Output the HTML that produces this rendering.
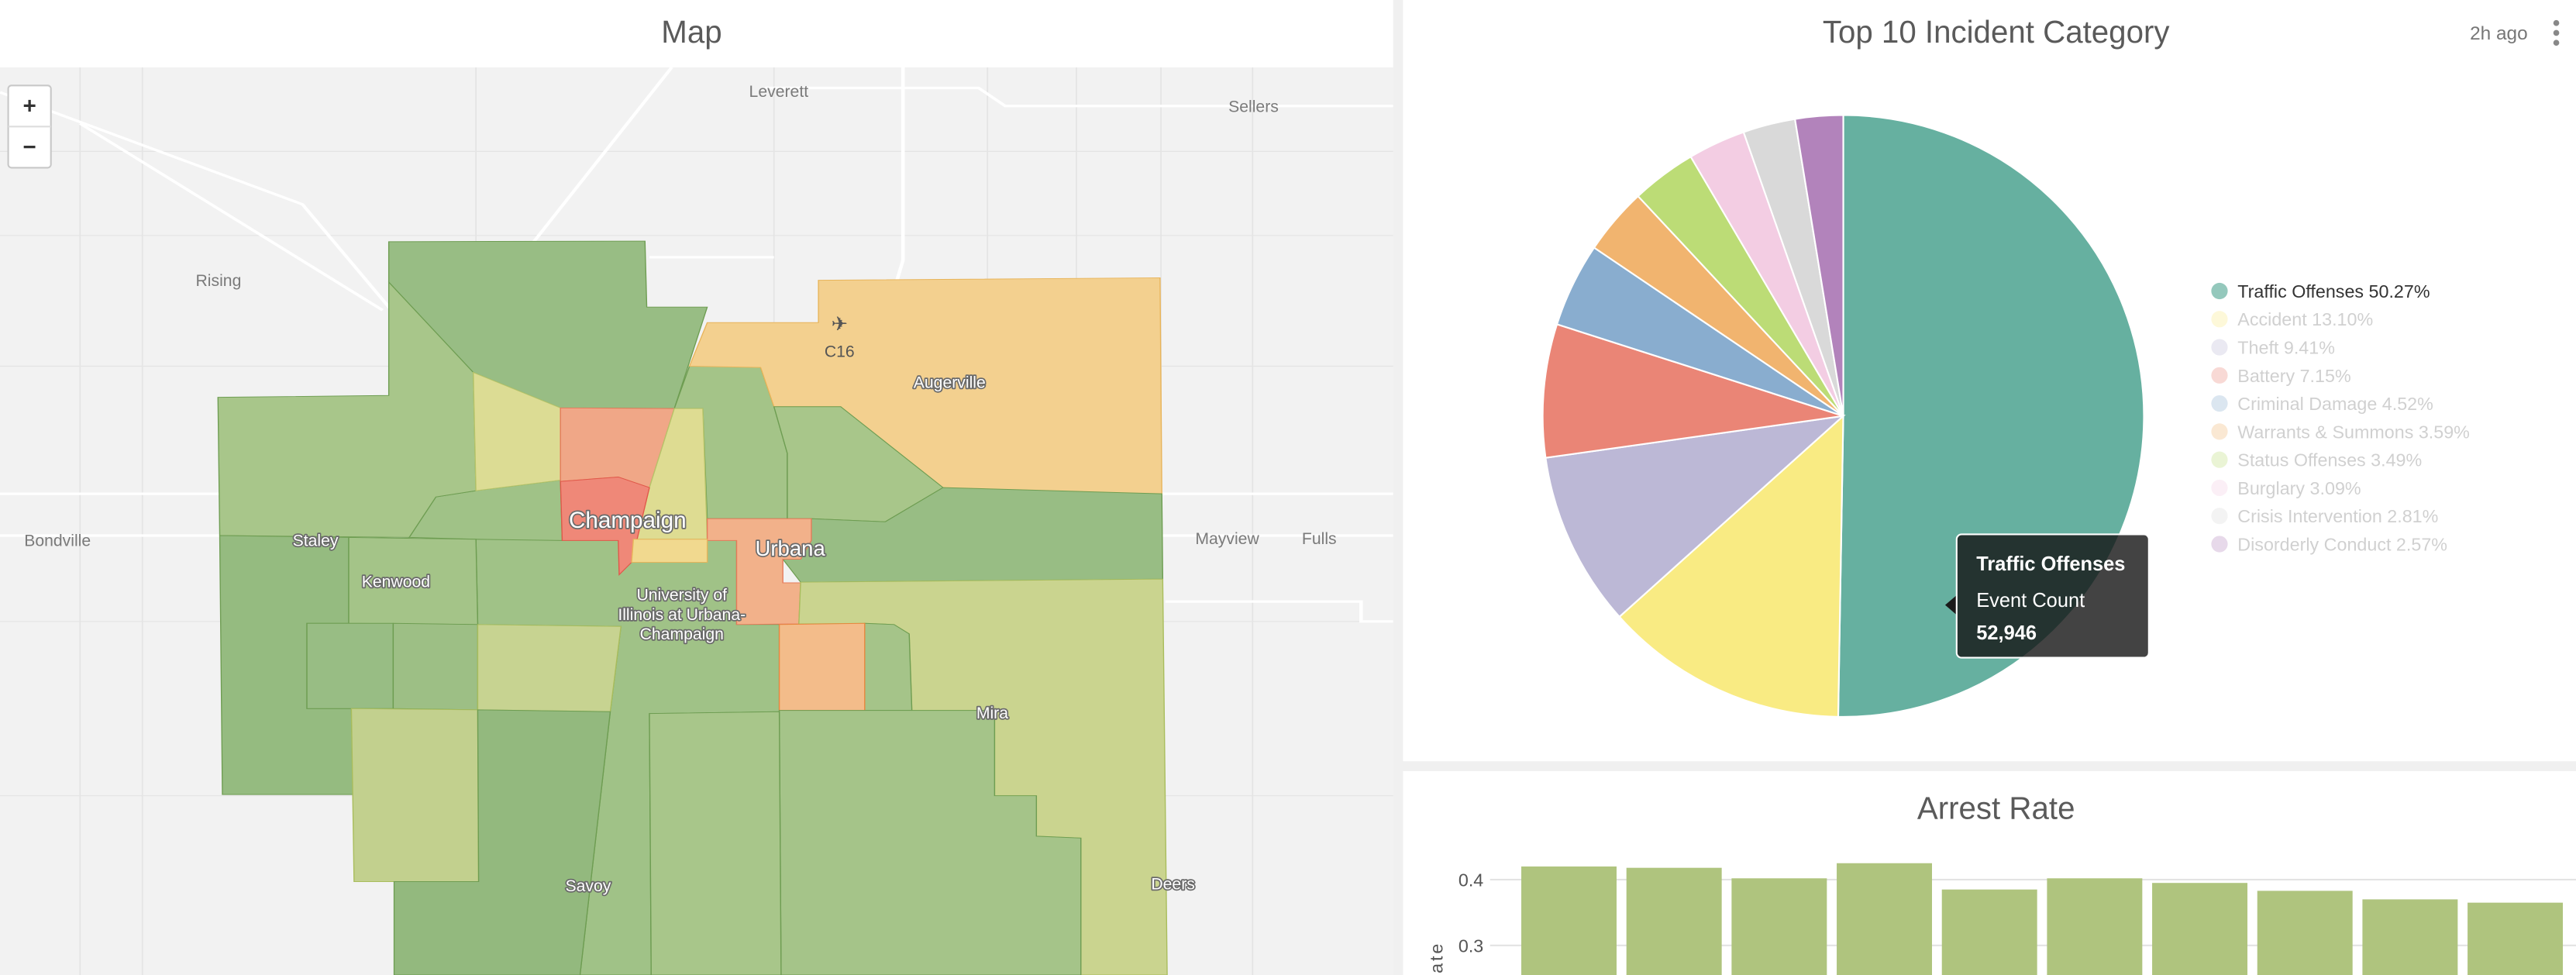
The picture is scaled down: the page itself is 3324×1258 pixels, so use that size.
<!DOCTYPE html>
<html><head><meta charset="utf-8"><style>html,body{margin:0;padding:0;background:#f0f0f0;overflow:hidden;width:3324px;height:1258px}svg{display:block;font-family:"Liberation Sans",sans-serif}</style></head>
<body>
<svg id="root" width="3324" height="1258" viewBox="0 0 1568 593" preserveAspectRatio="none" xmlns="http://www.w3.org/2000/svg">
<defs><clipPath id="barclip"><rect x="854" y="469" width="714" height="124"/></clipPath></defs>
<rect x="0" y="0" width="1568" height="593" fill="#f0f0f0"/>
<!-- MAP PANEL -->
<g>
<rect x="0" y="0" width="848" height="41" fill="#ffffff"/>
<text x="421" y="26" font-size="19" fill="#5a5a5a" text-anchor="middle">Map</text>
<svg x="0" y="41" width="848" height="552" viewBox="0 110 1566 1458" preserveAspectRatio="none">
<rect x="0" y="110" width="1568" height="1460" fill="#f2f2f2"/>
<g stroke="#e4e4e4" stroke-width="1.5" vector-effect="non-scaling-stroke" fill="none">
<path d="M0 245H1568M0 380H1568M0 590H1568M0 1000H1568M0 1280H1568M90 110V1568M160 110V1568M535 110V1568M870 110V1568M1110 110V1568M1210 110V1568M1305 110V1568M1408 110V1568"/>
</g>
<g stroke="#ffffff" stroke-width="4" fill="none">
<path d="M0 150L340 330L440 500"/><path d="M90 200L430 500"/><path d="M755 110L600 390"/><path d="M0 795H1568"/><path d="M0 862H1568"/><path d="M860 143H1100L1130 172H1568"/><path d="M1015 110V420L975 610"/><path d="M730 415L870 415"/><path d="M1310 968H1530V1000H1568"/>
</g>
<g stroke-width="1.2" vector-effect="non-scaling-stroke">
<polygon points="535,868 828,868 828,1005 876,1005 876,1145 730,1148 732,1568 652,1568 686,1145 698,1008 537,1005" fill="#a0c287" stroke="#6e9d52"/>
<polygon points="460,865 490,800 535,790 630,773 632,870 535,868" fill="#a0c287" stroke="#6e9d52"/>
<polygon points="437,390 725,389 727,495 795,495 758,658 630,657 532,600 437,455" fill="#98bd84" stroke="#6e9d52"/>
<polygon points="245,640 437,637 437,455 532,600 535,790 490,800 460,865 247,862" fill="#a8c68a" stroke="#6e9d52"/>
<polygon points="532,600 630,657 630,773 535,790" fill="#dcdc94" stroke="#b7c46a"/>
<polygon points="775,590 820,590 855,592 870,655 885,730 885,835 795,835 790,658 758,658" fill="#a4c488" stroke="#6e9d52"/>
<polygon points="920,452 1304,448 1306,795 1060,797 945,655 870,655 855,592 775,590 795,520 920,520" fill="#f3d08f" stroke="#e8b45a"/>
<polygon points="870,655 945,655 1060,785 995,840 912,835 885,835 885,730" fill="#a8c68a" stroke="#6e9d52"/>
<polygon points="1060,785 1306,795 1307,932 900,937 880,900 900,870 912,835 995,840" fill="#98bd84" stroke="#6e9d52"/>
<polygon points="630,657 758,658 730,785 695,768 630,775" fill="#f0a787" stroke="#e57a5a"/>
<polygon points="758,658 790,658 795,868 712,868 730,785" fill="#dedc92" stroke="#b7c46a"/>
<polygon points="630,775 695,768 730,785 710,905 696,925 695,870 632,870" fill="#ef8878" stroke="#e0584a"/>
<polygon points="795,835 912,835 912,870 900,900 880,900 880,938 900,938 898,1004 828,1005 828,870 795,870" fill="#f2b18a" stroke="#e57a5a"/>
<polygon points="712,868 795,868 795,905 710,905" fill="#f1d98f" stroke="#e8b45a"/>
<polygon points="900,937 1307,932 1312,1568 1215,1568 1215,1348 1165,1345 1165,1280 1118,1280 1118,1143 1025,1143 1022,1020 1005,1005 972,1003 898,1004" fill="#cad48f" stroke="#a9bd5c"/>
<polygon points="972,1003 1005,1005 1022,1020 1025,1143 972,1143" fill="#a5c489" stroke="#6e9d52"/>
<polygon points="876,1005 972,1003 972,1143 876,1143" fill="#f3bc8a" stroke="#e8873f"/>
<polygon points="876,1143 1118,1143 1118,1280 1165,1280 1165,1345 1215,1348 1215,1568 878,1568" fill="#a5c489" stroke="#6e9d52"/>
<polygon points="730,1148 876,1145 878,1568 732,1568" fill="#a8c68a" stroke="#6e9d52"/>
<polygon points="247,862 392,865 392,1003 345,1003 345,1140 395,1140 397,1278 250,1278" fill="#95bb80" stroke="#6e9d52"/>
<polygon points="392,865 535,868 537,1005 392,1003" fill="#a4c488" stroke="#6e9d52"/>
<polygon points="345,1003 442,1003 442,1140 345,1140" fill="#98bd84" stroke="#6e9d52"/>
<polygon points="442,1003 537,1005 537,1142 442,1140" fill="#9dbf85" stroke="#6e9d52"/>
<polygon points="537,1005 698,1008 686,1145 537,1142" fill="#c7d391" stroke="#a9bd5c"/>
<polygon points="395,1140 537,1142 538,1418 398,1418" fill="#c2d08e" stroke="#a9bd5c"/>
<polygon points="537,1142 686,1145 652,1568 443,1568 443,1418 538,1418" fill="#93b97e" stroke="#6e9d52"/>
</g>
</svg>
<g font-size="10" fill="#7a7a7a" text-anchor="middle">
<text x="474" y="59">Leverett</text><text x="763" y="68">Sellers</text><text x="133" y="174">Rising</text>
<text x="35" y="332">Bondville</text><text x="747" y="331">Mayview</text><text x="803" y="331">Fulls</text>
<text x="511" y="217" fill="#555">C16</text><text x="511" y="201" fill="#555" font-size="12">✈</text>
</g>
<g font-size="10" fill="#ffffff" stroke="#6a6a6a" stroke-width="1.6" paint-order="stroke" stroke-linejoin="round" text-anchor="middle">
<text x="578" y="236">Augerville</text>
<text x="382" y="321" font-size="14">Champaign</text><text x="481" y="338" font-size="13">Urbana</text>
<text x="192" y="332">Staley</text><text x="241" y="357">Kenwood</text>
<text x="415" y="365">University of</text><text x="415" y="377">Illinois at Urbana-</text><text x="415" y="389">Champaign</text>
<text x="604" y="437">Mira</text><text x="358" y="542">Savoy</text><text x="714" y="541">Deers</text>
</g>
<g>
<rect x="5" y="52" width="26" height="50" rx="2" fill="#fff" stroke="#c8c8c8"/>
<line x1="5" y1="77" x2="31" y2="77" stroke="#ddd"/>
<text x="18" y="69" font-size="14" font-weight="bold" text-anchor="middle" fill="#333">+</text>
<text x="18" y="94" font-size="14" font-weight="bold" text-anchor="middle" fill="#333">−</text>
</g>
</g>
<!-- PIE PANEL -->
<g>
<rect x="854" y="0" width="714" height="463" fill="#ffffff"/>
<text x="1215" y="26" font-size="19" fill="#5a5a5a" text-anchor="middle">Top 10 Incident Category</text>
<text x="1521" y="24" font-size="11.5" fill="#777" text-anchor="middle">2h ago</text>
<g fill="#888"><circle cx="1556" cy="14" r="1.8"/><circle cx="1556" cy="20" r="1.8"/><circle cx="1556" cy="26" r="1.8"/></g>
<g id="pie"></g>
<g id="legend"></g>
<g>
<path d="M1191 362 L1184 368 L1191 374 Z" fill="#1a1a1a"/>
<rect x="1191" y="325" width="117" height="75" rx="3" fill="rgba(20,20,20,0.8)" stroke="#fff" stroke-width="1"/>
<text x="1203" y="347" font-size="12" font-weight="bold" fill="#fff">Traffic Offenses</text>
<text x="1203" y="369" font-size="12" fill="#fff">Event Count</text>
<text x="1203" y="389" font-size="12" font-weight="bold" fill="#fff">52,946</text>
</g>
</g>
<!-- BAR PANEL -->
<g clip-path="url(#barclip)">
<rect x="854" y="469" width="714" height="124" fill="#ffffff"/>
<text x="1215" y="498" font-size="19" fill="#5a5a5a" text-anchor="middle">Arrest Rate</text>
<text transform="translate(878,592) rotate(-90)" font-size="11" fill="#555" text-anchor="start" textLength="18">ate</text>
<g id="bars"></g>
</g>
<script>
const pieLabels=["Traffic Offenses","Accident","Theft","Battery","Criminal Damage","Warrants & Summons","Status Offenses","Burglary","Crisis Intervention","Disorderly Conduct"];
const pieValues=[50.27,13.10,9.41,7.15,4.52,3.59,3.49,3.09,2.81,2.57];
const pieColors=["#66b0a0","#f9eb83","#bcb8d6","#ea8576","#89adcf","#f1b46f","#bcdc76","#f3cde3","#d9d9d9","#b283bb"];
const barCats=["c1","c2","c3","c4","c5","c6","c7","c8","c9","c10"];
const barValues=[0.420,0.418,0.402,0.425,0.385,0.402,0.395,0.383,0.370,0.365];
const yTicks=[0.3,0.4];
const NS="http://www.w3.org/2000/svg";
function mk(t,a,p){const e=document.createElementNS(NS,t);for(const k in a)e.setAttribute(k,a[k]);p.appendChild(e);return e;}
const cx=1122,cy=253,R=183;
const total=pieValues.reduce((a,b)=>a+b,0);
let ang=-Math.PI/2;
const pieG=document.getElementById('pie');
pieValues.forEach((v,i)=>{
 const a2=ang+v/total*2*Math.PI;
 const x1=cx+R*Math.cos(ang),y1=cy+R*Math.sin(ang),x2=cx+R*Math.cos(a2),y2=cy+R*Math.sin(a2);
 const large=(a2-ang)>Math.PI?1:0;
 const p=mk('path',{d:`M${cx} ${cy}L${x1} ${y1}A${R} ${R} 0 ${large} 1 ${x2} ${y2}Z`,fill:pieColors[i],stroke:'#fff','stroke-width':1},pieG);
 
 
 ang=a2;
});
const legG=document.getElementById('legend');
pieLabels.forEach((l,i)=>{
 const y=177+i*17.1;
 const g=mk('g',{opacity:i===0?1:0.3},legG);
 
 
 mk('circle',{cx:1351,cy:y,r:5,fill:pieColors[i],opacity:i===0?0.7:1},g);
 const t=mk('text',{x:1362,y:y+4,'font-size':11,fill:i===0?'#333':'#666'},g);
 t.textContent=l+' '+pieValues[i].toFixed(2)+'%';
});
const barsG=document.getElementById('bars');
const yS=v=>535-(v-0.4)*400;
yTicks.forEach(t=>{
 const ln=mk('line',{x1:907,x2:1568,y1:yS(t),y2:yS(t),stroke:'#e3e3e3'},barsG);
 
 
 const tx=mk('text',{x:903,y:yS(t)+4,'font-size':11,fill:'#555','text-anchor':'end'},barsG);
 
 
 tx.textContent=t.toFixed(1);
});
barValues.forEach((v,i)=>{
 const r=mk('rect',{x:926+i*64,y:yS(v),width:58,height:593-yS(v),fill:'#afc47e'},barsG);
 
 
});
</script>
</svg>
</body></html>
